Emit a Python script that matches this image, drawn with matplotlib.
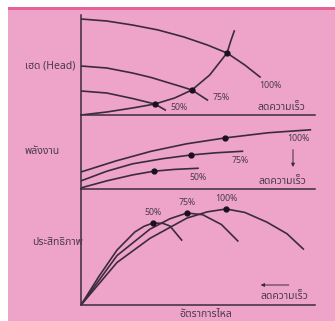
import matplotlib
matplotlib.use('Agg')
import matplotlib.pyplot as plt
from matplotlib.patches import Rectangle

# -- Data (flow 0-100, each panel value 0-100) --
# head panel
head_q100 = [0, 11, 22, 33, 44, 54, 62.4, 70, 76.5]
head_h100 = [96, 94, 90, 85, 78, 70, 62, 50, 38]
head_q75 = [0, 11, 22, 30, 37, 42, 47.4, 54]
head_h75 = [49, 47, 42, 37.5, 32.5, 29, 25, 15]
head_q50 = [0, 11, 22, 31.6, 36]
head_h50 = [24, 22, 16.5, 11, 5]
sys_q = [0, 11, 22, 31.6, 40, 47.4, 55, 62.4, 64, 65.5]
sys_h = [0, 3, 7, 11, 17, 25, 40, 62, 74, 84]
head_pts_q = [62.4, 47.4, 31.6]
head_pts_h = [62, 25, 11]

# power panel
pow_q100 = [0, 15, 30, 45, 61.5, 80, 98]
pow_p100 = [23, 38, 51, 61, 69, 76, 80]
pow_q75 = [0, 11, 22, 35, 47, 58, 69]
pow_p75 = [11, 24, 34, 41, 46, 49, 51]
pow_q50 = [0, 11, 22, 31, 40, 50]
pow_p50 = [1.5, 11, 19, 24, 26.5, 28]
pow_pts_q = [61.5, 47, 31]
pow_pts_p = [69, 46, 24]

# efficiency panel
eff_q50 = [0, 7.7, 15.4, 23, 27, 30.8, 35, 38, 43]
eff_e50 = [0, 25, 47.8, 63.5, 68.5, 71.3, 71, 68.7, 56.5]
eff_q75 = [0, 15.4, 29.5, 38, 45.3, 52, 60, 67]
eff_e75 = [0, 43, 66, 75, 80, 78.5, 70, 55.7]
eff_q100 = [0, 15.4, 29.5, 45.3, 54, 62, 70, 79.5, 88, 95]
eff_e100 = [0, 37, 58, 75.6, 81, 83.5, 80.5, 72, 62, 48.7]
eff_pts_q = [30.8, 45.3, 62]
eff_pts_e = [71.3, 80, 83.5]

speed_labels = ['100%', '75%', '50%']
slow = 'ลดความเร็ว'

BG = '#EEA3C8'
INK = '#3b2b3e'
TXT = '#4a3a4e'
FS = 6.3      # percent labels
FT = 7.5      # thai labels
plt.rcParams['font.family'] = ['Noto Sans Thai', 'DejaVu Sans']

W, H = 335, 321
fig = plt.figure(figsize=(W / 100, H / 100), dpi=100, facecolor='white')
fig.patches.append(Rectangle((8 / W, 0), 1, 1 - 7 / H, transform=fig.transFigure,
                             facecolor=BG, edgecolor='none', zorder=-10))
fig.patches.append(Rectangle((8 / W, 1 - 10 / H), 1, 3 / H, transform=fig.transFigure,
                             facecolor='#E8609A', edgecolor='none', zorder=-9))


def panel(top, bottom):
    ax = fig.add_axes([81 / W, (H - bottom) / H, (315 - 81) / W, (bottom - top) / H])
    ax.set_xlim(0, 100)
    ax.set_ylim(0, 100)
    ax.patch.set_visible(False)
    for s in ['top', 'right']:
        ax.spines[s].set_visible(False)
    for s in ['left', 'bottom']:
        ax.spines[s].set_color(INK)
        ax.spines[s].set_linewidth(1.1)
    ax.set_xticks([])
    ax.set_yticks([])
    return ax


def lab(ax, x, y, s, size=FS, ha='center'):
    ax.text(x, y, s, fontsize=size, color=TXT, ha=ha, va='center')


lw = 1.2
ax1 = panel(15, 115)
ax1.plot(head_q100, head_h100, color=INK, lw=lw)
ax1.plot(head_q75, head_h75, color=INK, lw=lw)
ax1.plot(head_q50, head_h50, color=INK, lw=lw)
ax1.plot(sys_q, sys_h, color=INK, lw=lw)
ax1.plot(head_pts_q, head_pts_h, 'o', color='#1a1020', ms=3.5)
lab(ax1, 81, 30, speed_labels[0])
lab(ax1, 60, 18, speed_labels[1])
lab(ax1, 42, 8, speed_labels[2])
lab(ax1, 85.5, 8, slow, FT)
lab(ax1, -2.6, 49, 'เฮด (Head)', FT, ha='right')

ax2 = panel(115, 189)
ax2.plot(pow_q100, pow_p100, color=INK, lw=lw)
ax2.plot(pow_q75, pow_p75, color=INK, lw=lw)
ax2.plot(pow_q50, pow_p50, color=INK, lw=lw)
ax2.plot(pow_pts_q, pow_pts_p, 'o', color='#1a1020', ms=3.5)
ax2.annotate('', xy=(90.6, 26), xytext=(90.6, 57),
             arrowprops=dict(arrowstyle='-|>', color=INK, lw=0.7, mutation_scale=5))
lab(ax2, 92.7, 67.6, speed_labels[0])
lab(ax2, 68, 38, speed_labels[1])
lab(ax2, 50, 16, speed_labels[2])
lab(ax2, 86, 9.5, slow, FT)
lab(ax2, -9, 50, 'พลังงาน', FT, ha='right')

ax3 = panel(190, 305)
ax3.plot(eff_q50, eff_e50, color=INK, lw=lw)
ax3.plot(eff_q75, eff_e75, color=INK, lw=lw)
ax3.plot(eff_q100, eff_e100, color=INK, lw=lw)
ax3.plot(eff_pts_q, eff_pts_e, 'o', color='#1a1020', ms=3.5)
for q, e, s in zip(eff_pts_q, eff_pts_e, speed_labels[::-1]):
    lab(ax3, q, e + 9, s)
ax3.annotate('', xy=(75.6, 17.4), xytext=(90, 17.4),
             arrowprops=dict(arrowstyle='-|>', color=INK, lw=0.7, mutation_scale=5))
lab(ax3, 87, 7, slow, FT)
lab(ax3, 0.9, 54, 'ประสิทธิภาพ', FT, ha='right')
lab(ax3, 53.4, -8, 'อัตราการไหล', FT)

fig.savefig('out.png', dpi=100, facecolor='white')
